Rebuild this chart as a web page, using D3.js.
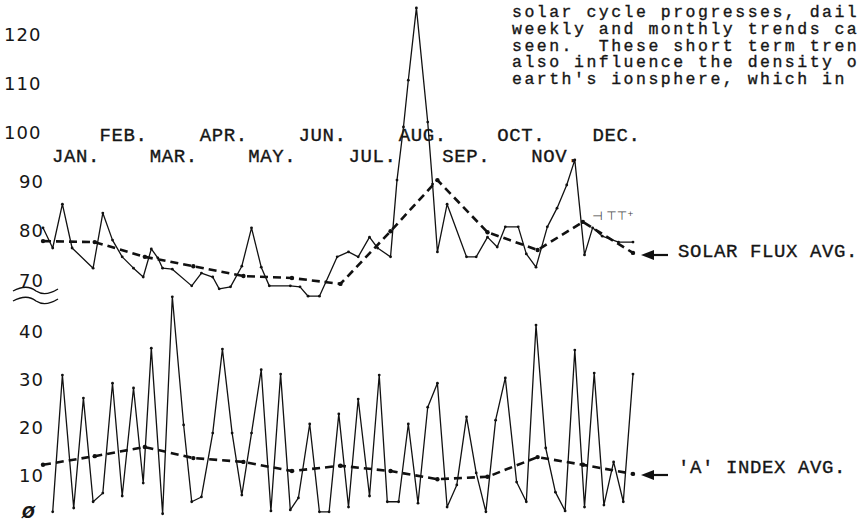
<!DOCTYPE html>
<html>
<head>
<script src="https://d3js.org/d3.v7.min.js" charset="utf-8"></script>
<style>
    body { margin: 0; background: #fff; }
    text { fill: #161616; }
    .type { font-family: "Liberation Mono", "Courier New", monospace; font-size: 19px; stroke: #161616; stroke-width: 0.35px; }
    .num { font-family: "DejaVu Sans", sans-serif; font-size: 18px; letter-spacing: 1px; }
</style>
</head>
<body>
<script>
    // day of year / value
    var fluxDay = [0,6,12,18,31,37,43,49,56,62,67,71,74,80,92,98,105,109,116,123,129,135,140,153,159,164,171,175,182,189,195,202,207,215,219,223,226,231,238,241,244,250,262,268,275,281,286,294,299,305,312,318,324,329,335,340,346,356,365];
    var fluxVal = [80.2,76.1,85.0,76.1,72.0,83.2,77.7,74.3,72.0,70.2,75.9,74.1,72.0,71.8,68.4,71.0,70.2,67.8,68.2,72.4,80.2,72.2,68.4,68.4,68.2,66.3,66.3,69.2,74.3,75.3,74.3,78.3,76.1,74.3,89.9,100.7,110.2,124.9,101.7,89.1,75.3,85.0,74.3,74.3,78.3,76.3,80.4,80.4,74.9,72.2,80.4,84.2,88.9,94.0,74.7,80.2,78.5,77.3,77.3];

    var aDay = [6,12,19,25,31,37,43,49,56,62,67,74,80,87,92,98,105,111,117,123,129,135,141,147,153,158,165,171,177,183,189,195,202,208,213,220,226,232,238,244,250,256,262,268,274,280,286,293,299,305,311,317,323,329,335,341,347,353,359,365];
    var aVal = [1.7,30.2,2.5,25.4,3.8,5.6,28.5,5.0,27.5,7.7,35.8,1.3,46.5,19.8,3.8,4.8,18.1,35.6,18.1,5.2,18.1,31.3,1.9,30.4,2.1,4.6,20.0,1.7,1.7,22.1,2.7,25.2,5.0,30.2,3.8,3.8,20.0,3.5,23.5,28.5,2.7,7.3,21.5,9.8,1.7,20.8,29.6,7.9,3.8,40.6,15.0,5.8,1.9,35.4,2.7,30.6,3.1,12.1,3.8,30.4];

    // monthly averages (plotted at month ends)
    var avgDay = [0,32,63,93,124,154,184,215,244,275,306,334,365];
    var fluxAvg = [77.5,77.3,74.3,72.4,70.4,70.0,68.8,79.5,89.9,79.3,75.7,81.4,75.1];
    var aAvg = [11.5,13.3,15.2,12.9,12.1,10.2,11.3,10.2,8.5,9.0,13.1,11.5,9.6];

    var months = ["JAN.","FEB.","MAR.","APR.","MAY.","JUN.","JUL.","AUG.","SEP.","OCT.","NOV.","DEC."];
    // day where each typed label's period falls
    var monthLabelDay = [31.5,61,92,123,153,184,215,246,273,307,328,366];
    var fluxTicks = [70,80,90,100,110,120];
    var aTicks = [0,10,20,30,40];
    var aTickText = ["Ø","10","20","30","40"];

    // page text, as far as it shows
    var para = [
        "solar cycle progresses, dail",
        "weekly and monthly trends ca",
        "seen.  These short term tren",
        "also influence the density o",
        "earth's ionsphere, which in"
    ];

    var w = 861, h = 522;

    var svg = d3.select("body").append("svg")
        .attr("width", w)
        .attr("height", h);

    var x = d3.scaleLinear().domain([0, 365]).range([43, 633]);
    var yTop = d3.scaleLinear().domain([70, 120]).range([278, 32]);
    var yBot = d3.scaleLinear().domain([0, 40]).range([520, 328]);

    function pairs(xs, ys) {
        return xs.map(function(d, i) { return [d, ys[i]]; });
    }

    function drawSeries(data, y, dashed) {
        var line = d3.line()
            .x(function(d) { return x(d[0]); })
            .y(function(d) { return y(d[1]); });
        svg.append("path")
            .datum(data)
            .attr("d", line)
            .attr("fill", "none")
            .attr("stroke", "#111")
            .attr("stroke-width", dashed ? 2.6 : 1.3)
            .attr("stroke-dasharray", dashed ? "8,5" : null)
            .attr("stroke-linejoin", "round");
        svg.append("g").selectAll("circle")
            .data(data)
            .enter()
            .append("circle")
            .attr("cx", function(d) { return x(d[0]); })
            .attr("cy", function(d) { return y(d[1]); })
            .attr("r", dashed ? 2.2 : 1.4)
            .attr("fill", "#111");
    }

    drawSeries(pairs(fluxDay, fluxVal), yTop, false);
    drawSeries(pairs(avgDay, fluxAvg), yTop, true);
    drawSeries(pairs(aDay, aVal), yBot, false);
    drawSeries(pairs(avgDay, aAvg), yBot, true);

    // y labels
    svg.append("g").selectAll("text")
        .data(fluxTicks)
        .enter()
        .append("text")
        .attr("class", "num")
        .attr("x", function(d) { return d >= 100 ? 4 : 19; })
        .attr("y", function(d) { return yTop(d) + 2; })
        .attr("dominant-baseline", "central")
        .text(function(d) { return d; });

    svg.append("g").selectAll("text")
        .data(aTicks)
        .enter()
        .append("text")
        .attr("class", "num")
        .attr("x", function(d) { return d == 0 ? 22 : 19; })
        .attr("y", function(d) { return Math.min(yBot(d) + 3, 513); })
        .attr("dominant-baseline", "central")
        .style("font-weight", function(d) { return d == 0 ? "bold" : null; })
        .style("font-style", function(d) { return d == 0 ? "italic" : null; })
        .style("font-size", function(d) { return d == 0 ? "15px" : null; })
        .text(function(d, i) { return aTickText[i]; });

    // axis break
    [291, 301].forEach(function(yy) {
        svg.append("path")
            .attr("d", "M13," + yy + " C22," + (yy - 5) + " 30," + (yy - 5) + " 36," + yy +
                       " C42," + (yy + 4) + " 50," + (yy + 3) + " 58," + (yy - 2))
            .attr("fill", "none")
            .attr("stroke", "#111")
            .attr("stroke-width", 1.4);
    });

    // month labels, the period sits on the day
    svg.append("g").selectAll("text")
        .data(months)
        .enter()
        .append("text")
        .attr("class", "type")
        .style("letter-spacing", "0.6px")
        .attr("x", function(d, i) { return x(monthLabelDay[i]) - 42; })
        .attr("y", function(d, i) { return i % 2 == 0 ? 162 : 141; })
        .text(function(d) { return d; });

    // legend arrows
    function arrow(yy) {
        svg.append("line")
            .attr("x1", 650).attr("x2", 668)
            .attr("y1", yy).attr("y2", yy)
            .attr("stroke", "#111").attr("stroke-width", 2.2);
        svg.append("path")
            .attr("d", "M641," + yy + " L654," + (yy - 5) + " L654," + (yy + 5) + " Z")
            .attr("fill", "#111");
    }
    arrow(255);
    arrow(475);

    svg.append("text").attr("class", "type").style("letter-spacing", "0.6px")
        .attr("x", 678).attr("y", 257).text("SOLAR FLUX AVG.");
    svg.append("text").attr("class", "type").style("letter-spacing", "0.6px")
        .attr("x", 678).attr("y", 473).text("'A' INDEX AVG.");

    // pencil marks
    svg.append("text")
        .attr("x", 592).attr("y", 220)
        .style("font-family", "DejaVu Sans")
        .style("font-size", "12px")
        .style("fill", "#444")
        .text("⊣ ⊤⊤⁺");

    // body text of the page
    svg.append("g").selectAll("text")
        .data(para)
        .enter()
        .append("text")
        .attr("class", "type")
        .style("font-size", "16.5px")
        .style("letter-spacing", "2.5px")
        .attr("x", 512)
        .attr("y", function(d, i) { return 17 + i * 16.8; })
        .attr("xml:space", "preserve")
        .style("white-space", "pre")
        .text(function(d) { return d; });
</script>
</body>
</html>
